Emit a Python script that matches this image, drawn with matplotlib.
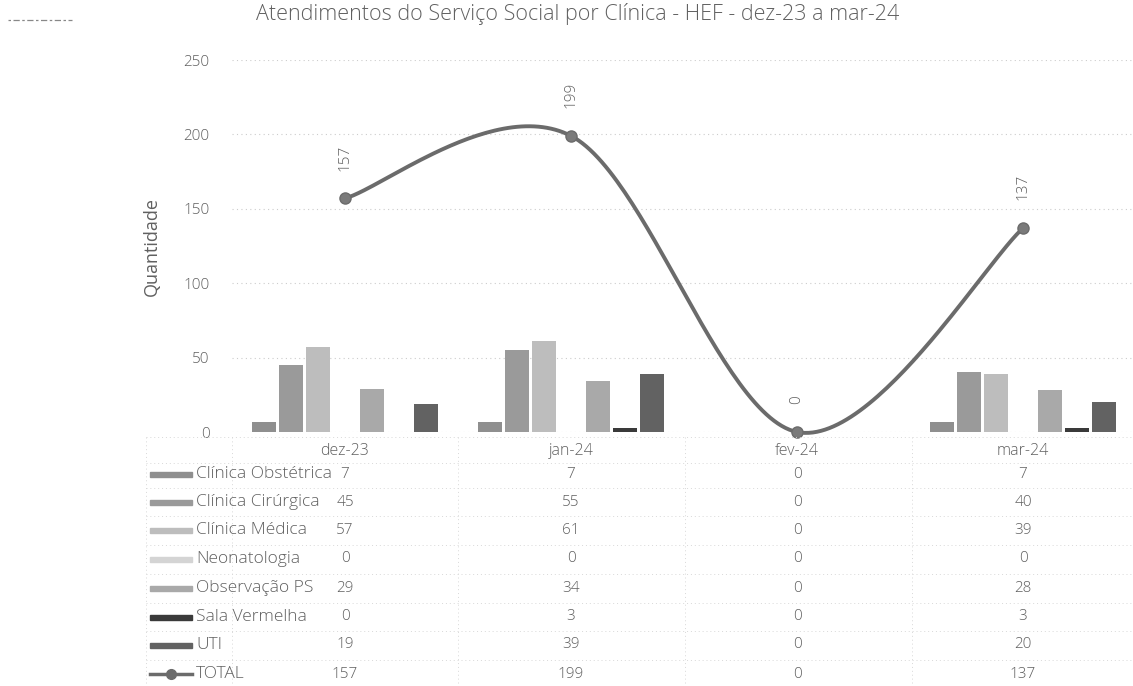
import numpy as np
import matplotlib
matplotlib.use("Agg")
import matplotlib.pyplot as plt
from matplotlib.transforms import blended_transform_factory
from matplotlib.lines import Line2D
from matplotlib.patches import Rectangle

plt.rcParams['font.family'] = ['Open Sans', 'DejaVu Sans']
plt.rcParams['font.weight'] = 'light'

months = ["dez-23", "jan-24", "fev-24", "mar-24"]
series_names = ["Clínica Obstétrica", "Clínica Cirúrgica", "Clínica Médica",
                "Neonatologia", "Observação PS", "Sala Vermelha", "UTI"]
obstetrica = [7, 7, 0, 7]
cirurgica = [45, 55, 0, 40]
medica = [57, 61, 0, 39]
neonatologia = [0, 0, 0, 0]
observacao_ps = [29, 34, 0, 28]
sala_vermelha = [0, 3, 0, 3]
uti = [19, 39, 0, 20]
total = [157, 199, 0, 137]
title = "Atendimentos do Serviço Social por Clínica - HEF - dez-23 a mar-24"

series = [obstetrica, cirurgica, medica, neonatologia, observacao_ps, sala_vermelha, uti]
colors = ["#8f8f8f", "#9a9a9a", "#bdbdbd", "#d4d4d4", "#a9a9a9", "#3a3a3a", "#626262"]
line_color = "#6b6b6b"
text_color = "#606060"
grid_color = "#cccccc"

W, H = 1133, 686
fig = plt.figure(figsize=(W / 100, H / 100), dpi=100)

def fx(px):
    return px / W

def fy(py):
    return 1 - py / H

ax_left, ax_right, ax_top, ax_bottom = 232, 1136, 60, 432
ax = fig.add_axes([fx(ax_left), fy(ax_bottom), fx(ax_right - ax_left), (ax_bottom - ax_top) / H])
ax.set_xlim(-0.5, 3.5)
ax.set_ylim(0, 250)
for s in ax.spines.values():
    s.set_visible(False)
ax.set_xticks([])
ax.set_yticks(range(0, 251, 50))
ax.tick_params(axis='y', length=0, pad=16, labelsize=11, labelcolor=text_color)
ax.set_ylabel("Quantidade", fontsize=13, color=text_color, labelpad=16)
for v in range(0, 251, 50):
    ax.axhline(v, color=grid_color, lw=0.8, ls=(0, (1, 3)), zorder=0)

# clustered bars
n = len(series)
spacing = 0.1195
width = 0.11
x = np.arange(len(months))
for k, (vals, c) in enumerate(zip(series, colors)):
    offs = (k - (n - 1) / 2) * spacing
    ax.bar(x + offs, vals, width=width, color=c, zorder=2)

# smoothed total line (Catmull-Rom in screen-proportional space)
sx = (ax_right - ax_left) / 4.0
sy = (ax_bottom - ax_top) / 250.0
P = np.column_stack([x * sx, np.array(total, float) * sy])
Pe = np.vstack([P[0], P, P[-1]])
curve = []
t = np.linspace(0, 1, 60)
for i in range(len(P) - 1):
    p0, p1, p2, p3 = Pe[i], Pe[i + 1], Pe[i + 2], Pe[i + 3]
    c1 = p1 + (p2 - p0) / 6
    c2 = p2 - (p3 - p1) / 6
    b = ((1 - t) ** 3)[:, None] * p1 + (3 * (1 - t) ** 2 * t)[:, None] * c1 \
        + (3 * (1 - t) * t ** 2)[:, None] * c2 + (t ** 3)[:, None] * p2
    curve.append(b)
curve = np.vstack(curve)
ax.plot(curve[:, 0] / sx, curve[:, 1] / sy, color=line_color, lw=2.8, zorder=4,
        clip_on=False, solid_capstyle='round')
ax.plot(x, total, ls='none', marker='o', ms=8, color="#7a7a7a", mec="#6b6b6b",
        zorder=5, clip_on=False)
for xi, v in zip(x, total):
    ax.annotate(str(v), (xi, v), xytext=(0, 20), textcoords='offset points',
                rotation=90, ha='center', va='bottom', fontsize=11, color=text_color)

# title and small corner mark
fig.text(fx(578), fy(14), title, ha='center', va='center', fontsize=15.5, color=text_color)
fig.add_artist(Line2D([fx(8), fx(72)], [fy(20), fy(20)], color="#888888", lw=0.9,
                      ls=(0, (2, 2, 5, 2))))

# data table below the plot
tr = blended_transform_factory(ax.transData, fig.transFigure)
header_y = 451
row_y = [474, 502, 530, 559, 588, 617, 645, 674]
for xi, m in zip(x, months):
    fig.text(xi, fy(header_y), m, transform=tr, ha='center', va='center',
             fontsize=11.5, color=text_color)

labels = series_names + ["TOTAL"]
table_vals = series + [total]
for r, (lab, vals) in enumerate(zip(labels, table_vals)):
    yy = row_y[r]
    fig.text(fx(196), fy(yy), lab, ha='left', va='center', fontsize=12.5, color=text_color)
    for xi, v in zip(x, vals):
        fig.text(xi, fy(yy), str(v), transform=tr, ha='center', va='center',
                 fontsize=11, color=text_color)
    if r < len(series):
        fig.add_artist(Rectangle((fx(150), fy(yy + 2.5)), fx(42), 5 / H,
                                 color=colors[r], transform=fig.transFigure))
    else:
        fig.add_artist(Line2D([fx(150), fx(171), fx(192)], [fy(yy)] * 3, color=line_color,
                              lw=2.5, marker='o', markevery=[1], ms=7,
                              transform=fig.transFigure))

# faint table grid
bounds = [437] + [(a + b) / 2 for a, b in zip(row_y[:-1], row_y[1:])] + [686]
bounds.insert(1, (header_y + row_y[0]) / 2)
for yy in bounds:
    fig.add_artist(Line2D([fx(146), fx(1133)], [fy(yy), fy(yy)],
                          color="#d8d8d8", lw=0.7, ls=(0, (1, 3))))
for xb in [146, 232, 458, 685, 912, 1133]:
    fig.add_artist(Line2D([fx(xb), fx(xb)], [fy(437), fy(686)], color="#d8d8d8", lw=0.7,
                          ls=(0, (1, 3))))

fig.savefig("out.png", dpi=100)
